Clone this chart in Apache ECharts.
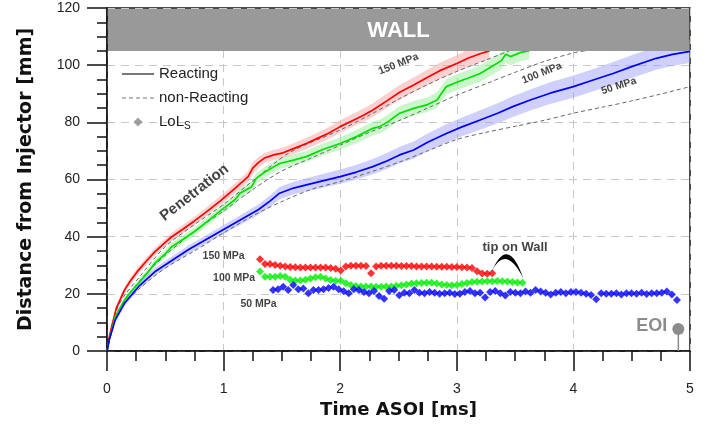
<!DOCTYPE html>
<html>
<head>
<meta charset="utf-8">
<script src="https://cdn.jsdelivr.net/npm/echarts@6/dist/echarts.min.js"></script>
<style>
  html, body { margin: 0; padding: 0; background: #fff; }
  #chart { width: 712px; height: 428px; }
</style>
</head>
<body>
<div id="chart"></div>
<script>
// reacting penetration, 150 MPa (time ms / distance mm / half width of shaded band)
const tRed = [0, 0.02, 0.04, 0.08, 0.15, 0.2, 0.27, 0.35, 0.41, 0.5, 0.55, 0.65, 0.75, 0.85, 0.98, 1.1, 1.21, 1.25, 1.3, 1.35, 1.43, 1.5, 1.6, 1.71, 1.8, 1.9, 2.0, 2.1, 2.2, 2.28, 2.4, 2.51, 2.63, 2.75, 2.85, 3.0, 3.1, 3.2, 3.28];
const vRed = [0, 5, 8.5, 15, 21.3, 24.5, 28.3, 32, 34.7, 38, 39.8, 42.6, 45.5, 48.6, 52.8, 57, 61, 64, 66, 67.5, 68.6, 69.2, 70.8, 72.6, 74.3, 76.2, 78.5, 80.5, 82.5, 84.3, 87.5, 90.5, 93.1, 95.8, 98, 100.6, 102.5, 104, 105];
const bRed = [0, 0.5, 0.8, 1, 1.2, 1.2, 1.3, 1.3, 1.4, 1.4, 1.4, 1.5, 1.5, 1.5, 1.6, 1.7, 1.9, 2.1, 2.0, 1.8, 1.8, 1.8, 1.9, 2.0, 2.0, 2.1, 2.2, 2.2, 2.3, 2.4, 2.5, 2.6, 2.6, 2.7, 2.8, 2.9, 3.0, 3.0, 3.0];

// reacting penetration, 100 MPa
const tGreen = [0, 0.02, 0.07, 0.15, 0.2, 0.27, 0.35, 0.41, 0.5, 0.55, 0.65, 0.75, 0.85, 0.98, 1.1, 1.14, 1.24, 1.28, 1.35, 1.48, 1.6, 1.71, 1.85, 2.0, 2.14, 2.28, 2.34, 2.42, 2.51, 2.63, 2.75, 2.83, 2.91, 3.0, 3.1, 3.2, 3.3, 3.38, 3.42, 3.46, 3.55, 3.62];
const vGreen = [0, 4, 12, 17.8, 20.5, 23.7, 27.5, 30.7, 34, 36.3, 39, 41.8, 45, 49.3, 53, 55.2, 57.5, 60.4, 62.5, 65.6, 66.8, 68, 70.5, 72.6, 75, 77.9, 78.5, 80.5, 83.2, 84.9, 86.2, 87.8, 92.5, 94, 95.5, 97.1, 99.5, 101.5, 103.8, 103, 104.5, 105];
const bGreen = [0, 0.5, 0.8, 1, 1.1, 1.2, 1.3, 1.3, 1.4, 1.4, 1.5, 1.5, 1.5, 1.6, 1.7, 1.7, 1.8, 1.8, 1.8, 1.9, 2.0, 2.0, 2.1, 2.2, 2.3, 2.4, 2.4, 2.5, 2.5, 2.6, 2.6, 2.7, 2.7, 2.8, 2.8, 2.9, 2.9, 3.0, 3.0, 3.0, 3.0, 3.0];

// reacting penetration, 50 MPa
const tBlue = [0, 0.02, 0.07, 0.15, 0.27, 0.41, 0.55, 0.7, 0.85, 1.0, 1.15, 1.3, 1.4, 1.48, 1.6, 1.71, 1.85, 2.0, 2.14, 2.28, 2.4, 2.51, 2.63, 2.75, 2.91, 3.05, 3.2, 3.35, 3.48, 3.63, 3.8, 4.0, 4.17, 4.34, 4.5, 4.71, 4.85, 5.0];
const vBlue = [0, 4, 10.8, 16.7, 22.5, 27.7, 31.5, 35.5, 39, 42.5, 46, 49.5, 52.5, 55.2, 57, 58.1, 59.5, 61, 62.6, 64.5, 66.5, 68.6, 70.3, 73, 76.1, 78.5, 80.8, 83.2, 85.5, 87.8, 90.2, 92.5, 94.8, 97.1, 99.5, 102.4, 103.8, 104.8];
const bBlue = [0, 0.5, 0.8, 1, 1.2, 1.3, 1.4, 1.5, 1.5, 1.6, 1.7, 1.8, 2.0, 2.2, 2.2, 2.3, 2.4, 2.5, 2.6, 2.7, 2.8, 2.9, 3.0, 3.1, 3.2, 3.3, 3.4, 3.5, 3.6, 3.7, 3.8, 3.9, 3.9, 4.0, 4.0, 4.0, 4.0, 4.0];

// non-reacting penetration
const tN150 = [0, 0.1, 0.3, 0.5, 0.75, 1.0, 1.25, 1.57, 2.0, 2.25, 2.51, 2.75, 3.0, 3.25, 3.45];
const vN150 = [0, 16, 27, 36.5, 44.2, 51.3, 59.5, 69.5, 77.3, 82.5, 88.3, 93.2, 97.8, 101.8, 105];
const tN100 = [0, 0.1, 0.3, 0.5, 0.75, 1.0, 1.25, 1.5, 1.75, 2.0, 2.25, 2.5, 2.75, 3.0, 3.25, 3.5, 3.75, 4.0, 4.1];
const vN100 = [0, 14, 25.5, 33.5, 41.8, 49, 56.5, 63, 67.5, 72, 76.5, 80.5, 85, 89.5, 93.5, 97.5, 101.3, 104.3, 105];
const tN50 = [0, 0.1, 0.27, 0.5, 0.75, 1.0, 1.25, 1.5, 1.75, 2.0, 2.25, 2.5, 2.75, 3.0, 3.25, 3.5, 3.75, 4.0, 4.25, 4.5, 4.75, 5.0];
const vN50 = [0, 14, 21.5, 29, 35, 41.3, 47.3, 52.3, 56.5, 59.3, 62.5, 66, 70, 74, 76.5, 78.6, 80.7, 83.2, 85.3, 87.5, 89.9, 92.5];

// lift-off length, one value per frame
const lolStep = 0.0433;
const lolRedStart = 1.312;
const lolRed = [32.1, 30.4, 30.4, 30.1, 29.8, 29.6, 29.4, 29.3, 29.2, 29.2, 29.2, 29.2, 29.2, 29.2, 29.0, 28.8, 28.2, 29.6, 29.8, 29.8, 29.8, 29.7, 27.2, 29.6, 29.8, 29.8, 29.8, 29.8, 29.7, 29.7, 29.7, 29.6, 29.6, 29.6, 29.6, 29.5, 29.5, 29.5, 29.4, 29.4, 29.3, 29.2, 29.0, 27.9, 27.1, 27.0, 27.2];
const lolGreenStart = 1.312;
const lolGreen = [27.8, 26.0, 26.0, 26.0, 26.2, 26.0, 24.9, 24.7, 24.7, 24.9, 25.4, 25.8, 26.0, 25.4, 24.8, 24.6, 24.6, 23.7, 23.1, 22.7, 22.6, 22.6, 22.6, 22.5, 22.5, 22.6, 22.6, 22.8, 23.0, 23.3, 23.6, 23.7, 23.8, 23.9, 23.9, 23.6, 23.3, 23.1, 23.0, 23.1, 23.4, 23.8, 24.1, 24.2, 24.3, 24.4, 24.4, 24.5, 24.4, 24.3, 24.1, 24.0, 23.9];
const lolBlueStart = 1.424;
const lolBlue = [21.3, 21.6, 22.5, 21.3, 23.1, 21.6, 21.9, 20.2, 21.3, 21.3, 21.6, 22.0, 22.5, 21.6, 20.9, 20.2, 21.6, 21.3, 20.6, 20.2, 21.0, 19.2, 18.3, 21.0, 21.3, 19.5, 20.4, 20.2, 21.3, 20.4, 20.2, 20.6, 20.4, 20.0, 20.2, 20.4, 19.9, 20.0, 20.6, 21.0, 20.2, 20.4, 18.7, 20.6, 21.0, 20.2, 19.4, 20.6, 20.4, 20.2, 20.8, 20.4, 21.3, 20.8, 20.4, 19.8, 20.4, 20.6, 20.2, 20.6, 20.6, 20.4, 20.0, 19.6, 18.1, 20.2, 20.0, 20.0, 20.2, 19.8, 20.2, 20.2, 20.0, 20.4, 19.9, 20.2, 20.2, 20.4, 20.8, 19.8, 17.8];

// end of injection
const eoiTime = 4.9;
const eoiMark = 7.7;

const FONT = '"Liberation Sans", Arial, sans-serif';
const TITLE_FONT = '"DejaVu Sans", sans-serif';
const chart = echarts.init(document.getElementById('chart'));

const zip = (ts, vs) => ts.map((t, i) => [t, vs[i]]);
const lolData = (t0, vs) => vs.map((v, i) => [+(t0 + i * lolStep).toFixed(4), v]);

function band(ts, vs, hw, fill) {
  return {
    type: 'custom', silent: true, z: 1, clip: true,
    data: [[ts[0], vs[0]]],
    renderItem: (params, api) => {
      const up = ts.map((t, i) => api.coord([t, vs[i] + hw[i]]));
      const lo = ts.map((t, i) => api.coord([t, vs[i] - hw[i]])).reverse();
      return { type: 'polygon', shape: { points: up.concat(lo) }, style: { fill: fill } };
    }
  };
}

function solid(ts, vs, color) {
  return {
    type: 'line', data: zip(ts, vs), symbol: 'none', z: 4, silent: true,
    lineStyle: { color: color, width: 1.7 }
  };
}

function dashed(ts, vs) {
  return {
    type: 'line', data: zip(ts, vs), symbol: 'none', z: 3, silent: true, smooth: 0.3,
    lineStyle: { color: '#666', width: 1, type: [4, 3] }
  };
}

function lol(t0, vs, color) {
  return {
    type: 'scatter', data: lolData(t0, vs), symbol: 'diamond', symbolSize: 8, z: 5, silent: true,
    itemStyle: { color: color }
  };
}

const note = (text, value, rotate, size) => ({
  value: value,
  label: { formatter: text, rotate: rotate, fontSize: size }
});

// legend icons: tiny end points keep the icon box 32 px wide
const ICON_SOLID = 'path://M0,0H32V1.6H0Z';
const ICON_DASH = 'path://M0,0H4V1.1H0Z M7,0H11V1.1H7Z M14,0H18V1.1H14Z M21,0H25V1.1H21Z M28,0H32V1.1H28Z';
const ICON_DIAMOND = 'path://M0,4.5L0.01,4.5Z M16,0L20.5,4.5L16,9L11.5,4.5Z M32,4.5L31.99,4.5Z';

const option = {
  animation: false,
  textStyle: { fontFamily: FONT },
  grid: { left: 107, right: 22, top: 8, bottom: 77, show: true, borderColor: '#111', borderWidth: 1.5 },
  legend: {
    left: 117, top: 60, orient: 'vertical', itemWidth: 32, itemHeight: 12, itemGap: 6,
    selectedMode: false,
    textStyle: { fontSize: 15, color: '#222', lineHeight: 18, fontFamily: FONT,
      rich: { n: { fontSize: 15, color: '#222', fontFamily: FONT }, s: { fontSize: 10, color: '#222', padding: [8, 0, 0, 0], fontFamily: FONT } } },
    formatter: name => name === 'LoLs' ? '{n|LoL}{s|S}' : name,
    data: [
      { name: 'Reacting', icon: ICON_SOLID, itemStyle: { color: '#555' } },
      { name: 'non-Reacting', icon: ICON_DASH, itemStyle: { color: '#777' } },
      { name: 'LoLs', icon: ICON_DIAMOND, itemStyle: { color: '#888' } }
    ]
  },
  xAxis: {
    type: 'value', min: 0, max: 5, interval: 1,
    name: 'Time ASOI [ms]', nameLocation: 'middle', nameGap: 49,
    nameTextStyle: { fontSize: 18, fontWeight: 'bold', color: '#111', fontFamily: TITLE_FONT },
    axisLine: { lineStyle: { color: '#111', width: 1.5 } },
    axisTick: { length: 20, lineStyle: { color: '#111', width: 1.5 } },
    minorTick: { show: true, splitNumber: 4, length: 10, lineStyle: { color: '#111', width: 1.5 } },
    splitLine: { show: true, lineStyle: { color: '#c8c8c8', type: [8, 6], width: 1 } },
    axisLabel: { fontSize: 14, color: '#222', margin: 31, fontFamily: FONT }
  },
  yAxis: {
    type: 'value', min: 0, max: 120, interval: 20,
    name: 'Distance from Injector [mm]', nameLocation: 'middle', nameGap: 71,
    nameTextStyle: { fontSize: 19, fontWeight: 'bold', color: '#111', fontFamily: TITLE_FONT },
    axisLine: { show: true, lineStyle: { color: '#111', width: 1.5 } },
    axisTick: { show: true, length: 20, lineStyle: { color: '#111', width: 1.5 } },
    minorTick: { show: true, splitNumber: 4, length: 10, lineStyle: { color: '#111', width: 1.5 } },
    splitLine: { show: true, lineStyle: { color: '#c8c8c8', type: [8, 6], width: 1 } },
    axisLabel: { fontSize: 14, color: '#222', margin: 27, fontFamily: FONT }
  },
  series: [
    band(tRed, vRed, bRed, 'rgba(245,150,150,0.45)'),
    band(tGreen, vGreen, bGreen, 'rgba(140,235,140,0.45)'),
    band(tBlue, vBlue, bBlue, 'rgba(150,150,250,0.45)'),
    dashed(tN150, vN150),
    dashed(tN100, vN100),
    dashed(tN50, vN50),
    solid(tRed, vRed, '#ff0000'),
    solid(tGreen, vGreen, '#00e000'),
    solid(tBlue, vBlue, '#0000ff'),
    lol(lolRedStart, lolRed, '#ff0000'),
    lol(lolGreenStart, lolGreen, '#00ee00'),
    lol(lolBlueStart, lolBlue, '#0000ff'),
    // legend entries
    { name: 'Reacting', type: 'line', data: [], symbol: 'none', lineStyle: { color: '#555', width: 1.5 }, itemStyle: { color: '#555' } },
    { name: 'non-Reacting', type: 'line', data: [], symbol: 'none', lineStyle: { color: '#777', width: 1, type: [4, 3] }, itemStyle: { color: '#777' } },
    { name: 'LoLs', type: 'scatter', data: [], symbol: 'diamond', itemStyle: { color: '#888' } },
    // text annotations
    {
      type: 'scatter', z: 7, silent: true, symbolSize: 1, itemStyle: { color: 'rgba(0,0,0,0)' },
      label: { show: true, position: 'inside', color: '#111', fontWeight: 'bold', fontFamily: FONT },
      data: [
        note('150 MPa', [2.5, 100.4], 22, 10.5),
        note('100 MPa', [3.73, 97.2], 22, 10.5),
        note('50 MPa', [4.39, 92.7], 18, 10.5),
        note('150 MPa', [1.0, 33.2], 0, 10.5),
        note('100 MPa', [1.09, 25.6], 0, 10.5),
        note('50 MPa', [1.3, 16.4], 0, 10.5),
        note('Penetration', [0.75, 55.4], 38, 15),
        note('tip on Wall', [3.5, 36.3], 0, 13)
      ]
    },
    // tip-on-wall bracket
    {
      type: 'custom', z: 7, silent: true, data: [[3.3, 27.9]],
      renderItem: (params, api) => {
        const a = api.coord([3.3, 27.9]);
        const b = api.coord([3.57, 25.4]);
        const c1 = api.coord([3.44, 41]);
        const c2 = api.coord([3.42, 37.5]);
        return {
          type: 'path',
          shape: { pathData: `M${a[0]},${a[1]} Q${c1[0]},${c1[1]} ${b[0]},${b[1]} Q${c2[0]},${c2[1]} ${a[0]},${a[1]} Z` },
          style: { fill: '#000' }
        };
      }
    },
    // end of injection marker
    {
      type: 'line', z: 6, silent: true,
      lineStyle: { color: '#8c8c8c', width: 1.5 },
      itemStyle: { color: '#8c8c8c' },
      data: [
        { value: [eoiTime, 0], symbol: 'none' },
        { value: [eoiTime, eoiMark], symbol: 'circle', symbolSize: 12,
          label: { show: true, position: 'left', distance: 5, offset: [0, -3], formatter: 'EOI',
            color: '#8c8c8c', fontSize: 18, fontWeight: 'bold', fontFamily: FONT } }
      ]
    },
    // wall
    {
      type: 'custom', z: 10, silent: true, data: [[0, 105]],
      renderItem: (params, api) => {
        const a = api.coord([0, 120]);
        const b = api.coord([5, 105]);
        return {
          type: 'group',
          children: [
            { type: 'rect', shape: { x: a[0] + 1, y: a[1] + 1, width: b[0] - a[0] - 2, height: b[1] - a[1] - 1 }, style: { fill: '#999999' } },
            { type: 'text', style: { text: 'WALL', x: (a[0] + b[0]) / 2, y: (a[1] + b[1]) / 2 + 1, align: 'center', verticalAlign: 'middle',
              fill: '#fff', font: 'bold 22px "Liberation Sans", Arial, sans-serif' } }
          ]
        };
      }
    }
  ]
};

chart.setOption(option);
</script>
</body>
</html>
